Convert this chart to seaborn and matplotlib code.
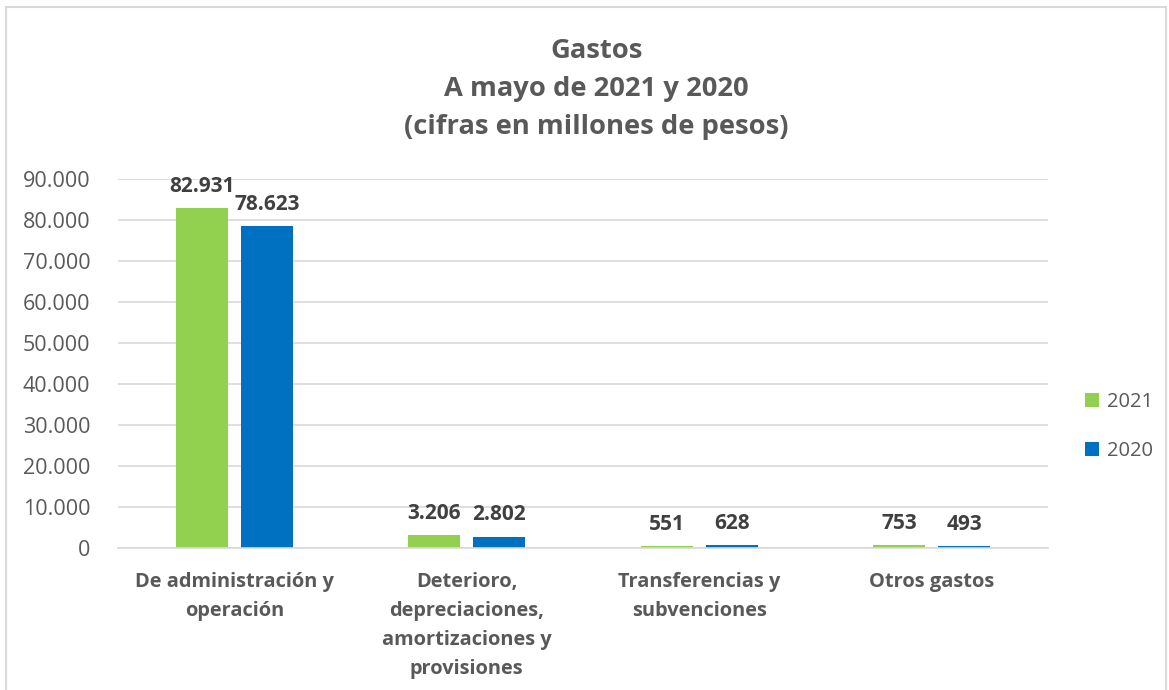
import matplotlib.pyplot as plt
import matplotlib.ticker as mticker
import pandas as pd
import seaborn as sns
from matplotlib.patches import Rectangle

categorias = ["De administración y\noperación",
              "Deterioro,\ndepreciaciones,\namortizaciones y\nprovisiones",
              "Transferencias y\nsubvenciones",
              "Otros gastos"]
gastos_2021 = [82931, 3206, 551, 753]
gastos_2020 = [78623, 2802, 628, 493]
anios = ["2021", "2020"]
colores = {"2021": "#92D050", "2020": "#0070C0"}

df = pd.DataFrame({
    "Categoria": categorias * 2,
    "Año": [anios[0]] * 4 + [anios[1]] * 4,
    "Valor": gastos_2021 + gastos_2020,
})

sns.set_style("white")
plt.rcParams["font.family"] = ["Open Sans", "DejaVu Sans"]

fig = plt.figure(figsize=(11.69, 6.9), dpi=100)
ax = fig.add_axes([0.101, 0.2058, 0.7955, 0.5348])

sns.barplot(data=df, x="Categoria", y="Valor", hue="Año", palette=colores,
            width=0.56, gap=0.2, ax=ax, saturation=1, linewidth=0)

miles = lambda v: f"{v:,.0f}".replace(",", ".")
for cont in ax.containers:
    ax.bar_label(cont, labels=[miles(b.get_height()) for b in cont],
                 padding=8, fontsize=15, fontweight="bold", color="#404040")

ax.set_ylim(0, 90000)
ax.set_yticks(range(0, 90001, 10000))
ax.yaxis.set_major_formatter(mticker.FuncFormatter(lambda v, p: miles(v)))
ax.tick_params(axis="y", labelsize=15.5, labelcolor="#595959", length=0, pad=20)
ax.set_xticks(range(len(categorias)))
ax.set_xticklabels(categorias, fontsize=14.4, fontweight="bold", color="#595959",
                   linespacing=1.6)
ax.tick_params(axis="x", length=0, pad=17)
ax.set_xlabel("")
ax.set_ylabel("")
ax.grid(axis="y", color="#D9D9D9", linewidth=1.2)
ax.set_axisbelow(True)
for s in ["top", "right", "left"]:
    ax.spines[s].set_visible(False)
ax.spines["bottom"].set_color("#D9D9D9")
ax.spines["bottom"].set_linewidth(1.2)

ax.legend(loc="center left", bbox_to_anchor=(1.02, 0.33), frameon=False,
          fontsize=14.5, labelcolor="#595959", handlelength=0.7, handleheight=0.7,
          handletextpad=0.4, labelspacing=1.45)

fig.text(0.51, 0.871, "Gastos\nA mayo de 2021 y 2020\n(cifras en millones de pesos)",
         ha="center", va="center", fontsize=19.7, fontweight="bold",
         color="#595959", linespacing=1.62)

fig.patches.append(Rectangle((6 / 1169, -0.01), 1160 / 1169, 1 - 7 / 690 + 0.01,
                             transform=fig.transFigure, fill=False,
                             edgecolor="#D9D9D9", linewidth=1.5))

fig.savefig("out.png", dpi=100)
